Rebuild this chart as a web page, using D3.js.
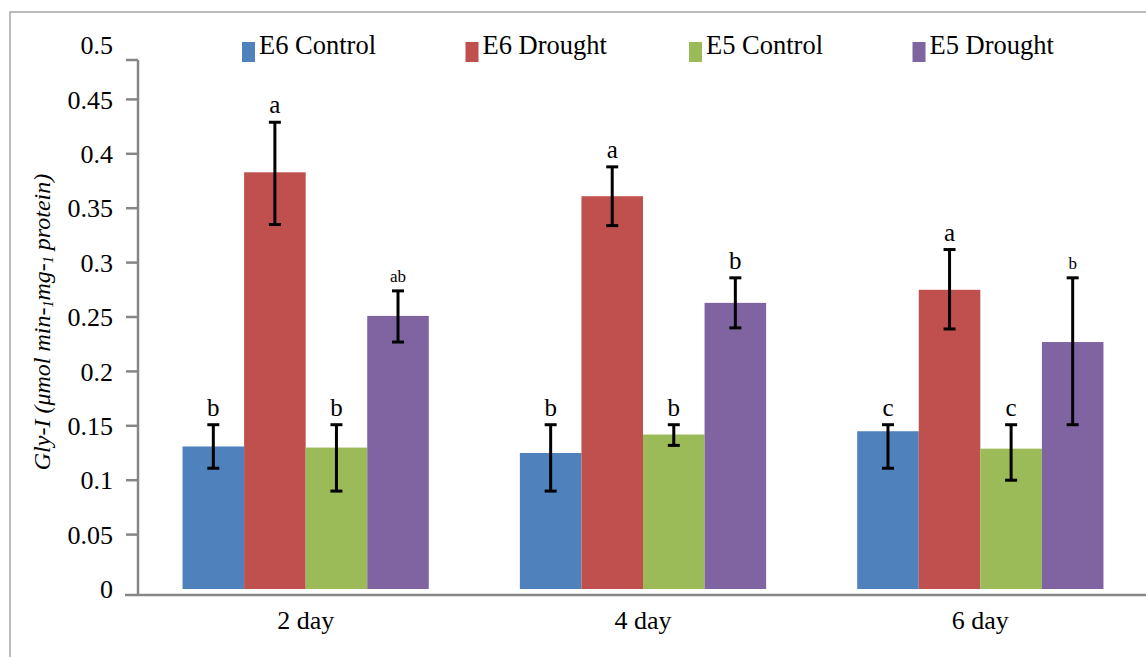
<!DOCTYPE html>
<meta charset="utf-8">
<html>
  <head>
    <style>
      body { margin: 0; background: #fff; }
      text { font-family: "Liberation Serif", "Times New Roman", serif; fill: #000; }
      text.tick { font-size: 26px; }
      text.legend { font-size: 26.5px; }
      text.day { font-size: 26px; }
      line.axis { stroke: #868686; stroke-width: 2.5px; }
      line.err { stroke: #000; stroke-width: 3px; }
    </style>
    <script type="text/javascript" src="https://cdn.jsdelivr.net/npm/d3@7"></script>
  </head>
  <body>
    <div id="chart"></div>
    <script type="text/javascript">
      // data
      var days = ["2 day", "4 day", "6 day"];
      var series = ["E6 Control", "E6 Drought", "E5 Control", "E5 Drought"];
      var colors = ["#4F81BD", "#C0504D", "#9BBB59", "#8064A2"];
      // mean per series, one entry per day
      var means = [
        [0.131, 0.125, 0.145],
        [0.383, 0.361, 0.275],
        [0.130, 0.142, 0.129],
        [0.251, 0.263, 0.227]
      ];
      // error bar ends (low / high)
      var errLow = [
        [0.111, 0.090, 0.111],
        [0.335, 0.334, 0.239],
        [0.090, 0.132, 0.100],
        [0.227, 0.240, 0.151]
      ];
      var errHigh = [
        [0.151, 0.151, 0.151],
        [0.429, 0.388, 0.312],
        [0.151, 0.151, 0.151],
        [0.274, 0.286, 0.286]
      ];
      var letters = [
        ["b", "b", "c"],
        ["a", "a", "a"],
        ["b", "b", "c"],
        ["ab", "b", "b"]
      ];
      var yTicks = [0, 0.05, 0.1, 0.15, 0.2, 0.25, 0.3, 0.35, 0.4, 0.45, 0.5];

      var width = 1146, height = 657;

      var svg = d3.select("#chart").append("svg")
          .attr("width", width)
          .attr("height", height);

      // outer frame
      svg.append("rect")
          .attr("x", 10).attr("y", 12)
          .attr("width", width + 20).attr("height", height + 20)
          .style("fill", "none").style("stroke", "#A6A6A6").style("stroke-width", 1.5);

      var y = d3.scaleLinear().domain([0, 0.5]).range([589, 45]);
      var x0 = d3.scaleBand().domain(days).range([137, 1149])
          .paddingInner(0.27).paddingOuter(0.135);
      var x1 = d3.scaleBand().domain(series).range([0, x0.bandwidth()]);

      var axisX = 138, baseY = y(0) + 6;

      // y axis line and ticks
      svg.append("line").attr("class", "axis")
          .attr("x1", axisX).attr("x2", axisX).attr("y1", 60).attr("y2", baseY);
      svg.append("line").attr("class", "axis")
          .attr("x1", axisX - 12).attr("x2", axisX).attr("y1", 60).attr("y2", 60);
      svg.selectAll(".ytick")
          .data(yTicks.filter(function(d) { return d > 0 && d < 0.5; }))
          .enter().append("line")
          .attr("class", "axis ytick")
          .attr("x1", axisX - 12).attr("x2", axisX)
          .attr("y1", function(d) { return y(d); })
          .attr("y2", function(d) { return y(d); });
      svg.selectAll(".ylabel")
          .data(yTicks)
          .enter().append("text")
          .attr("class", "tick ylabel")
          .attr("x", 113)
          .attr("y", function(d) { return y(d); })
          .attr("dy", "0.35em")
          .style("text-anchor", "end")
          .text(function(d) { return d; });

      // x axis line
      svg.append("line").attr("class", "axis")
          .attr("x1", 125).attr("x2", width).attr("y1", baseY).attr("y2", baseY);
      svg.selectAll(".day")
          .data(days)
          .enter().append("text")
          .attr("class", "day")
          .attr("x", function(d) { return x0(d) + x0.bandwidth() / 2; })
          .attr("y", 629)
          .style("text-anchor", "middle")
          .text(function(d) { return d; });

      // y title
      var title = svg.append("text")
          .attr("transform", "translate(50,322) rotate(-90)")
          .style("text-anchor", "middle")
          .style("font-style", "italic")
          .style("font-size", "24px");
      title.append("tspan").text("Gly-I (μmol min-");
      title.append("tspan").text("1").style("font-size", "14px").attr("dy", 3);
      title.append("tspan").text("mg-").attr("dy", -3);
      title.append("tspan").text("1").style("font-size", "14px").attr("dy", 3);
      title.append("tspan").text(" protein)").attr("dy", -3);

      // bars
      var cells = [];
      series.forEach(function(s, si) {
        days.forEach(function(d, di) {
          cells.push({ s: s, si: si, day: d, v: means[si][di],
                       lo: errLow[si][di], hi: errHigh[si][di], lab: letters[si][di] });
        });
      });

      var groups = svg.selectAll(".bar")
          .data(cells)
          .enter().append("g")
          .attr("class", "bar")
          .attr("transform", function(d) { return "translate(" + (x0(d.day) + x1(d.s)) + ",0)"; });

      groups.append("rect")
          .attr("x", 0)
          .attr("y", function(d) { return y(d.v); })
          .attr("width", x1.bandwidth())
          .attr("height", function(d) { return y(0) - y(d.v); })
          .style("fill", function(d) { return colors[d.si]; });

      var cx = x1.bandwidth() / 2;
      groups.append("line").attr("class", "err")
          .attr("x1", cx).attr("x2", cx)
          .attr("y1", function(d) { return y(d.lo); })
          .attr("y2", function(d) { return y(d.hi); });
      groups.append("line").attr("class", "err")
          .attr("x1", cx - 6).attr("x2", cx + 6)
          .attr("y1", function(d) { return y(d.lo); })
          .attr("y2", function(d) { return y(d.lo); });
      groups.append("line").attr("class", "err")
          .attr("x1", cx - 6).attr("x2", cx + 6)
          .attr("y1", function(d) { return y(d.hi); })
          .attr("y2", function(d) { return y(d.hi); });

      groups.append("text")
          .attr("x", cx)
          .attr("y", function(d) { return y(d.hi) - 9; })
          .style("text-anchor", "middle")
          .style("font-size", function(d) {
            return (d.si === 3 && d.day !== "4 day") ? "17px" : "25px";
          })
          .text(function(d) { return d.lab; });

      // legend
      var legend = svg.selectAll(".legend")
          .data(series)
          .enter().append("g")
          .attr("class", "legend")
          .attr("transform", function(d, i) { return "translate(" + (242 + i * 223.5) + ",0)"; });
      legend.append("rect")
          .attr("x", 0).attr("y", 42)
          .attr("width", 13).attr("height", 20)
          .style("fill", function(d, i) { return colors[i]; });
      legend.append("text")
          .attr("class", "legend")
          .attr("x", 17).attr("y", 54)
          .text(function(d) { return d; });
    </script>
  </body>
</html>
